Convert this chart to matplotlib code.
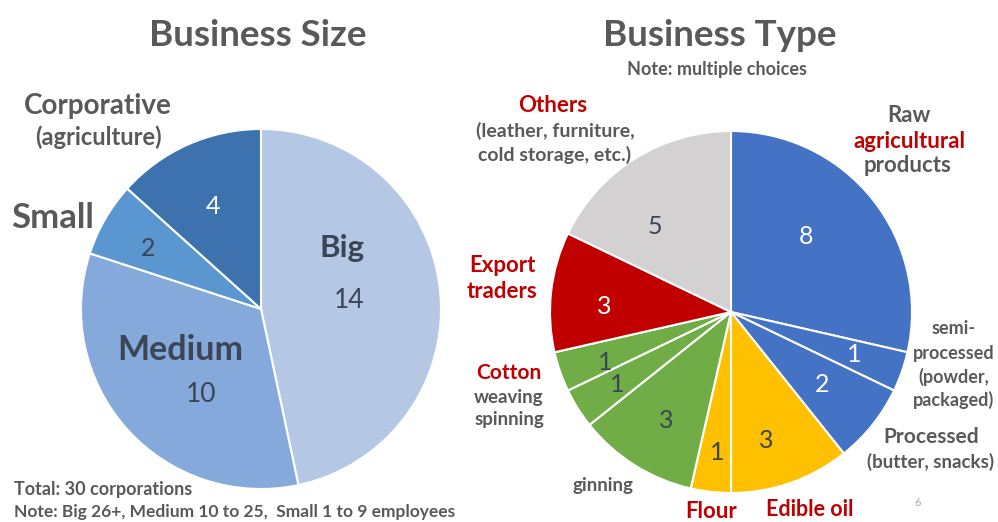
import matplotlib
matplotlib.use('Agg')
import matplotlib.pyplot as plt

plt.rcParams['font.family'] = ['Lato', 'DejaVu Sans']

# business size (30 corporations)
size_labels = ['Big', 'Medium', 'Small', 'Corporative']
size_values = [14, 10, 2, 4]
size_colors = ['#B4C8E6', '#85A9DB', '#5A96D0', '#3D72AE']

# business type (multiple choices)
type_labels = ['Raw agricultural', 'Semi-processed', 'Processed', 'Edible oil', 'Flour',
               'Ginning', 'Spinning', 'Weaving', 'Export traders', 'Others']
type_values = [8, 1, 2, 3, 1, 3, 1, 1, 3, 5]
type_colors = ['#4472C4', '#4472C4', '#4472C4', '#FFC000', '#FFC000',
               '#70AD47', '#70AD47', '#70AD47', '#C00000', '#D3D1D1']

W, H = 998, 522
GREY = '#595959'
RED = '#C00000'
NAVY = '#3B4556'

fig = plt.figure(figsize=(W / 100, H / 100), dpi=100)


def px(x, y):
    return x / W, 1 - y / H


def draw_pie(cx, cy, r, values, colors):
    ax = fig.add_axes([(cx - r) / W, 1 - (cy + r) / H, 2 * r / W, 2 * r / H])
    ax.pie(values, colors=colors, startangle=90, counterclock=False, radius=1,
           wedgeprops=dict(edgecolor='white', linewidth=1.5))
    ax.set_xlim(-1, 1)
    ax.set_ylim(-1, 1)
    ax.set_aspect('equal')
    ax.axis('off')
    return ax


def ftext(x, y, s, size, color=GREY, weight='bold', ha='center'):
    fig.text(*px(x, y), s, fontsize=size, color=color, fontweight=weight,
             ha=ha, va='center')


# left pie
ax1 = draw_pie(261, 309, 180, size_values, size_colors)

size_text = [(342, 248, 'Big', 22.5, 'bold', NAVY), (349, 301, str(size_values[0]), 19, 'normal', NAVY),
             (180, 350, 'Medium', 24.5, 'bold', NAVY), (201, 394, str(size_values[1]), 19, 'normal', NAVY),
             (148, 248, str(size_values[2]), 18, 'normal', NAVY),
             (213, 207, str(size_values[3]), 18, 'normal', 'white')]
for x, y, s, fs, fw, c in size_text:
    ftext(x, y, s, fs, color=c, weight=fw)

# right pie
ax2 = draw_pie(731, 312, 181, type_values, type_colors)

num_pos = [(806, 236, 'white'), (854, 354, 'white'), (822, 384, 'white'),
           (766, 441, NAVY), (717, 452, NAVY), (666, 420, NAVY),
           (617, 384, NAVY), (605, 362, NAVY), (604, 307, 'white'), (655, 227, NAVY)]
for (x, y, c), v in zip(num_pos, type_values):
    ftext(x, y, str(v), 18, color=c, weight='normal')

# titles
ftext(258, 36, 'Business Size', 26.5)
ftext(720, 36, 'Business Type', 26.5)
ftext(717, 69, 'Note: multiple choices', 13)

# outer labels, left
ftext(98, 106, 'Corporative', 20)
ftext(98, 137, '(agriculture)', 17)
ftext(53, 218, 'Small', 25)
ftext(14, 490, 'Total: 30 corporations', 13, ha='left')
ftext(14, 512, 'Note: Big 26+, Medium 10 to 25,  Small 1 to 9 employees', 12.5, ha='left')

# outer labels, right
ftext(553, 106, 'Others', 16, color=RED)
ftext(555, 131, '(leather, furniture,', 14)
ftext(555, 155, 'cold storage, etc.)', 14)
ftext(909, 115, 'Raw', 16)
ftext(909, 141, 'agricultural', 16, color=RED)
ftext(908, 166, 'products', 16)
ftext(954, 329, 'semi-', 13)
ftext(954, 353, 'processed', 13)
ftext(954, 377, '(powder,', 13)
ftext(954, 400, 'packaged)', 13)
ftext(931, 437, 'Processed', 15)
ftext(931, 462, '(butter, snacks)', 13.5)
ftext(810, 510, 'Edible oil', 15.5, color=RED)
ftext(711, 512, 'Flour', 16, color=RED)
ftext(603, 486, 'ginning', 13.5)
ftext(509, 373, 'Cotton', 15, color=RED)
ftext(509, 398, 'weaving', 13.5)
ftext(509, 420, 'spinning', 13.5)
ftext(502, 266, 'Export', 16, color=RED)
ftext(502, 291, 'traders', 16, color=RED)
ftext(918, 502, '6', 8, color='#AAAAAA', weight='normal')

fig.savefig('out.png', dpi=100)
